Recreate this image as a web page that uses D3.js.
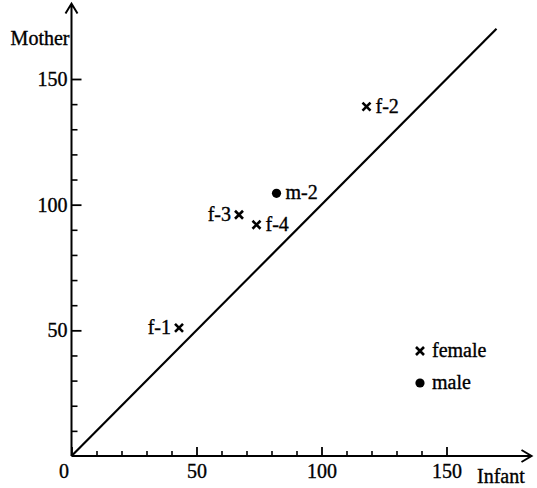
<!DOCTYPE html>
<html>
<head>
<meta charset="utf-8">
<script src="https://cdn.jsdelivr.net/npm/d3@7"></script>
<style>
  body { margin: 0; background: #fff; }
  svg text { font-family: "Liberation Serif", "DejaVu Serif", serif; fill: #000; stroke: #000; stroke-width: 0.35; }
</style>
</head>
<body>
<script>
// data
var ids = ["f-1", "f-2", "f-3", "f-4", "m-2"];
var sex = ["female", "female", "female", "female", "male"];
var infant = [43, 118, 67, 74, 82];
var mother = [51, 139, 96, 92, 104.5];
var majorTicks = [0, 50, 100, 150];
var minorTicks = [10, 20, 30, 40, 60, 70, 80, 90, 110, 120, 130, 140];
var legendLabels = ["female", "male"];
var diagonal = [0, 170];

// which side the point label sits on
var labelSide = { "f-1": "left", "f-2": "right", "f-3": "left", "f-4": "right", "m-2": "right" };

var svg = d3.select("body").append("svg")
    .attr("width", 537)
    .attr("height", 488);

var x = d3.scaleLinear().domain([0, 150]).range([71.5, 446.5]);
var y = d3.scaleLinear().domain([0, 150]).range([456, 79]);

var font = 20;

// x axis: minor then major ticks, pointing up
svg.append("g")
    .attr("transform", "translate(0," + y(0) + ")")
    .call(d3.axisBottom(x).tickValues(minorTicks).tickSize(-5).tickFormat(""))
    .call(function(g) { g.select(".domain").remove(); })
    .selectAll("line").attr("stroke-width", 1.6);

var xMajor = svg.append("g")
    .attr("transform", "translate(0," + y(0) + ")")
    .call(d3.axisBottom(x).tickValues(majorTicks).tickSize(-9).tickPadding(8))
    .call(function(g) { g.select(".domain").remove(); });
xMajor.selectAll("line").attr("stroke-width", 1.8);
xMajor.selectAll("text")
    .attr("font-size", font)
    .attr("font-family", "Liberation Serif")
    .attr("x", function(d) { return d === 0 ? -8 : 0; });

// y axis: ticks pointing right
svg.append("g")
    .attr("transform", "translate(" + x(0) + ",0)")
    .call(d3.axisLeft(y).tickValues(minorTicks).tickSize(-6).tickFormat(""))
    .call(function(g) { g.select(".domain").remove(); })
    .selectAll("line").attr("stroke-width", 1.6);

var yMajor = svg.append("g")
    .attr("transform", "translate(" + x(0) + ",0)")
    .call(d3.axisLeft(y).tickValues(majorTicks.filter(function(d) { return d > 0; }))
        .tickSize(-10).tickPadding(4))
    .call(function(g) { g.select(".domain").remove(); });
yMajor.selectAll("line").attr("stroke-width", 1.8);
yMajor.selectAll("text")
    .attr("font-size", font)
    .attr("font-family", "Liberation Serif");

// axis lines with open arrow heads
var xEnd = x(184), yTop = y(180);
svg.append("path")
    .attr("d", "M" + x(0) + "," + y(0) + "H" + xEnd +
        "M" + (xEnd - 10) + "," + (y(0) - 6) + "L" + xEnd + "," + y(0) + "L" + (xEnd - 10) + "," + (y(0) + 6) +
        "M" + x(0) + "," + y(0) + "V" + yTop +
        "M" + (x(0) - 6) + "," + (yTop + 10) + "L" + x(0) + "," + yTop + "L" + (x(0) + 6) + "," + (yTop + 10))
    .attr("fill", "none")
    .attr("stroke", "#000")
    .attr("stroke-width", 2);

svg.append("text")
    .attr("x", x(0) - 2)
    .attr("y", 45)
    .attr("text-anchor", "end")
    .attr("font-size", font)
    .text("Mother");

svg.append("text")
    .attr("x", 477)
    .attr("y", 483)
    .attr("font-size", font)
    .text("Infant");

// y = x line
svg.append("line")
    .attr("x1", x(diagonal[0])).attr("y1", y(diagonal[0]))
    .attr("x2", x(diagonal[1])).attr("y2", y(diagonal[1]))
    .attr("stroke", "#000")
    .attr("stroke-width", 2.2);

function drawMark(sel, s) {
    if (s === "female") {
        sel.append("path")
            .attr("d", "M-4,-4L4,4M-4,4L4,-4")
            .attr("stroke", "#000")
            .attr("stroke-width", 2.6)
            .attr("fill", "none");
    } else {
        sel.append("circle")
            .attr("r", 4.6)
            .attr("fill", "#000");
    }
}

var points = svg.selectAll("g.pt")
    .data(ids)
    .enter()
    .append("g")
    .attr("class", "pt")
    .attr("transform", function(d, i) {
        return "translate(" + x(infant[i]) + "," + y(mother[i]) + ")";
    });

points.each(function(d, i) {
    var g = d3.select(this);
    drawMark(g, sex[i]);
    var left = labelSide[d] === "left";
    g.append("text")
        .attr("x", left ? -8 : 9)
        .attr("y", 6)
        .attr("text-anchor", left ? "end" : "start")
        .attr("font-size", font)
        .text(d);
});

// legend
var legend = svg.selectAll("g.leg")
    .data(legendLabels)
    .enter()
    .append("g")
    .attr("class", "leg")
    .attr("transform", function(d, i) { return "translate(420," + (351 + i * 32) + ")"; });

legend.each(function(d) {
    var g = d3.select(this);
    drawMark(g, d);
    g.append("text")
        .attr("x", 12)
        .attr("y", 6)
        .attr("font-size", font)
        .text(d);
});
</script>
</body>
</html>
